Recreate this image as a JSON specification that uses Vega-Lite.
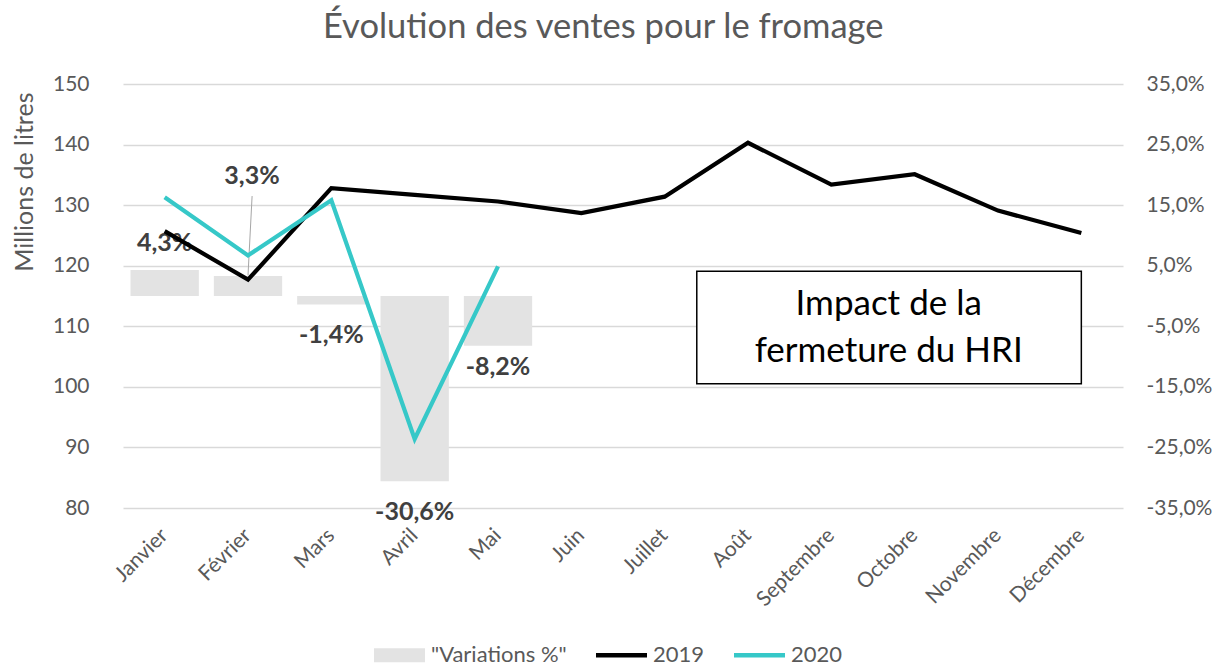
{
  "$schema": "https://vega.github.io/schema/vega-lite/v6.json",
  "width": 1000,
  "height": 424,
  "autosize": {"type": "none"},
  "padding": {"left": 123, "top": 84, "right": 93, "bottom": 161},
  "background": "white",
  "config": {
    "locale": {"number": {"decimal": ",", "thousands": " ", "grouping": [3], "currency": ["", " €"], "minus": "-"}},
    "font": "Lato",
    "view": {"stroke": null},
    "axis": {"labelColor": "#595959", "labelFont": "Lato", "titleColor": "#595959", "titleFont": "Lato", "titleFontWeight": "normal", "domain": false, "ticks": false, "gridColor": "#d9d9d9", "gridWidth": 1.3}
  },
  "title": {"text": "Évolution des ventes pour le fromage", "font": "Lato", "fontSize": 34.5, "fontWeight": "normal", "color": "#595959", "anchor": "middle", "frame": "bounds", "baseline": "alphabetic", "offset": 1, "dx": -9},
  "datasets": {
    "ventes": [
      {"mois": "Janvier", "annee": "2019", "valeur": 125.7},
      {"mois": "Février", "annee": "2019", "valeur": 117.7},
      {"mois": "Mars", "annee": "2019", "valeur": 132.8},
      {"mois": "Avril", "annee": "2019", "valeur": 131.7},
      {"mois": "Mai", "annee": "2019", "valeur": 130.6},
      {"mois": "Juin", "annee": "2019", "valeur": 128.7},
      {"mois": "Juillet", "annee": "2019", "valeur": 131.4},
      {"mois": "Août", "annee": "2019", "valeur": 140.3},
      {"mois": "Septembre", "annee": "2019", "valeur": 133.4},
      {"mois": "Octobre", "annee": "2019", "valeur": 135.1},
      {"mois": "Novembre", "annee": "2019", "valeur": 129.1},
      {"mois": "Décembre", "annee": "2019", "valeur": 125.4},
      {"mois": "Janvier", "annee": "2020", "valeur": 131.3},
      {"mois": "Février", "annee": "2020", "valeur": 121.7},
      {"mois": "Mars", "annee": "2020", "valeur": 130.8},
      {"mois": "Avril", "annee": "2020", "valeur": 91.4},
      {"mois": "Mai", "annee": "2020", "valeur": 119.9}
    ],
    "variations": [
      {"mois": "Janvier", "variation": 0.043},
      {"mois": "Février", "variation": 0.033},
      {"mois": "Mars", "variation": -0.014},
      {"mois": "Avril", "variation": -0.306},
      {"mois": "Mai", "variation": -0.082}
    ]
  },
  "layer": [
    {
      "data": {"name": "variations"},
      "layer": [
        {
          "mark": {"type": "bar", "color": "#e3e3e3"},
          "encoding": {
            "x": {"field": "mois", "type": "ordinal",
              "scale": {"domain": ["Janvier", "Février", "Mars", "Avril", "Mai", "Juin", "Juillet", "Août", "Septembre", "Octobre", "Novembre", "Décembre"], "paddingInner": 0.18, "paddingOuter": 0.09},
              "axis": {"title": null, "labelAngle": -45, "labelAlign": "right", "labelBaseline": "middle", "labelFontSize": 21, "labelPadding": 24, "grid": false}},
            "y": {"field": "variation", "type": "quantitative",
              "scale": {"domain": [-0.35, 0.35], "nice": false},
              "axis": {"orient": "right", "title": null, "values": [-0.35, -0.25, -0.15, -0.05, 0.05, 0.15, 0.25, 0.35], "format": ".1%", "labelFontSize": 21, "labelPadding": 23, "grid": false}},
            "color": {"datum": "\"Variations %\"", "type": "nominal",
              "scale": {"domain": ["\"Variations %\"", "2019", "2020"], "range": ["#e3e3e3", "#000000", "#36c8c8"]},
              "legend": {"title": null, "orient": "none", "direction": "horizontal", "legendX": 251, "legendY": 545.5,
                "labelFontSize": 22, "labelColor": "#595959", "labelFont": "Lato", "labelOffset": 6, "columnPadding": 29,
                "symbolSize": 2601, "symbolStrokeWidth": 0,
                "encode": {"symbols": {"update": {
                  "shape": {"signal": "datum.value === '\"Variations %\"' ? 'M-1,-0.275H1V0.275H-1Z' : 'M-1,-0.085H1V0.085H-1Z'"},
                  "fill": {"signal": "scale('color', datum.value)"},
                  "opacity": {"value": 1},
                  "strokeWidth": {"value": 0}
                }}}}}
          }
        },
        {
          "transform": [{"filter": "datum.mois === 'Janvier'"}],
          "mark": {"type": "text", "font": "Lato", "fontWeight": "bold", "fontSize": 25, "color": "#404040", "baseline": "middle", "dy": -27},
          "encoding": {
            "x": {"field": "mois", "type": "ordinal", "axis": {"title": null}},
            "y": {"field": "variation", "type": "quantitative", "axis": {"title": null}},
            "text": {"field": "variation", "type": "quantitative", "format": ".1%"}
          }
        },
        {
          "transform": [{"filter": "datum.mois === 'Février'"}],
          "mark": {"type": "text", "font": "Lato", "fontWeight": "bold", "fontSize": 25, "color": "#404040", "baseline": "middle", "dy": -100, "dx": 4},
          "encoding": {
            "x": {"field": "mois", "type": "ordinal", "axis": {"title": null}},
            "y": {"field": "variation", "type": "quantitative", "axis": {"title": null}},
            "text": {"field": "variation", "type": "quantitative", "format": ".1%"}
          }
        },
        {
          "transform": [{"filter": "datum.mois === 'Mars' || datum.mois === 'Avril'"}],
          "mark": {"type": "text", "font": "Lato", "fontWeight": "bold", "fontSize": 25, "color": "#404040", "baseline": "middle", "dy": 31},
          "encoding": {
            "x": {"field": "mois", "type": "ordinal", "axis": {"title": null}},
            "y": {"field": "variation", "type": "quantitative", "axis": {"title": null}},
            "text": {"field": "variation", "type": "quantitative", "format": ".1%"}
          }
        },
        {
          "transform": [{"filter": "datum.mois === 'Mai'"}],
          "mark": {"type": "text", "font": "Lato", "fontWeight": "bold", "fontSize": 25, "color": "#404040", "baseline": "middle", "dy": 21},
          "encoding": {
            "x": {"field": "mois", "type": "ordinal", "axis": {"title": null}},
            "y": {"field": "variation", "type": "quantitative", "axis": {"title": null}},
            "text": {"field": "variation", "type": "quantitative", "format": ".1%"}
          }
        },
        {
          "transform": [{"filter": "datum.mois === 'Février'"}],
          "mark": {"type": "rule", "color": "#a6a6a6", "strokeWidth": 1},
          "encoding": {
            "x": {"datum": "Février", "bandPosition": 0.56, "axis": {"title": null}},
            "x2": {"datum": "Février", "bandPosition": 0.5},
            "y": {"datum": 0.165, "type": "quantitative", "axis": {"title": null}},
            "y2": {"datum": 0.034}
          }
        }
      ]
    },
    {
      "layer": [
        {
          "data": {"name": "ventes"},
          "mark": {"type": "line", "strokeWidth": 4.2, "strokeJoin": "miter"},
          "encoding": {
            "x": {"field": "mois", "type": "ordinal", "axis": {"title": null}},
            "y": {"field": "valeur", "type": "quantitative",
              "scale": {"domain": [80, 150], "nice": false, "zero": false},
              "axis": {"orient": "left", "title": "Millions de litres", "values": [80, 90, 100, 110, 120, 130, 140, 150], "labelFontSize": 21, "labelPadding": 34, "titleFontSize": 25, "titleAnchor": "end", "titleY": 8, "titlePadding": 15, "grid": true}},
            "color": {"field": "annee", "type": "nominal", "legend": null}
          }
        },
        {
          "data": {"values": [{}]},
          "mark": {"type": "rect", "fill": "white", "stroke": "black", "strokeWidth": 1.5},
          "encoding": {
            "x": {"datum": "Juillet", "bandPosition": 0.97, "axis": {"title": null}},
            "x2": {"datum": "Décembre", "bandPosition": 0.5},
            "y": {"datum": 119.1, "type": "quantitative", "axis": {"title": "Millions de litres"}},
            "y2": {"datum": 100.5}
          }
        },
        {
          "data": {"values": [{}]},
          "mark": {"type": "text", "text": ["Impact de la", "fermeture du HRI"], "font": "Lato", "fontSize": 35, "lineHeight": 47, "align": "center", "baseline": "alphabetic", "color": "#000000"},
          "encoding": {
            "x": {"datum": "Octobre", "bandPosition": 0.12, "axis": {"title": null}},
            "y": {"datum": 111.85, "type": "quantitative", "axis": {"title": "Millions de litres"}}
          }
        }
      ]
    }
  ],
  "resolve": {"scale": {"y": "independent"}}
}
